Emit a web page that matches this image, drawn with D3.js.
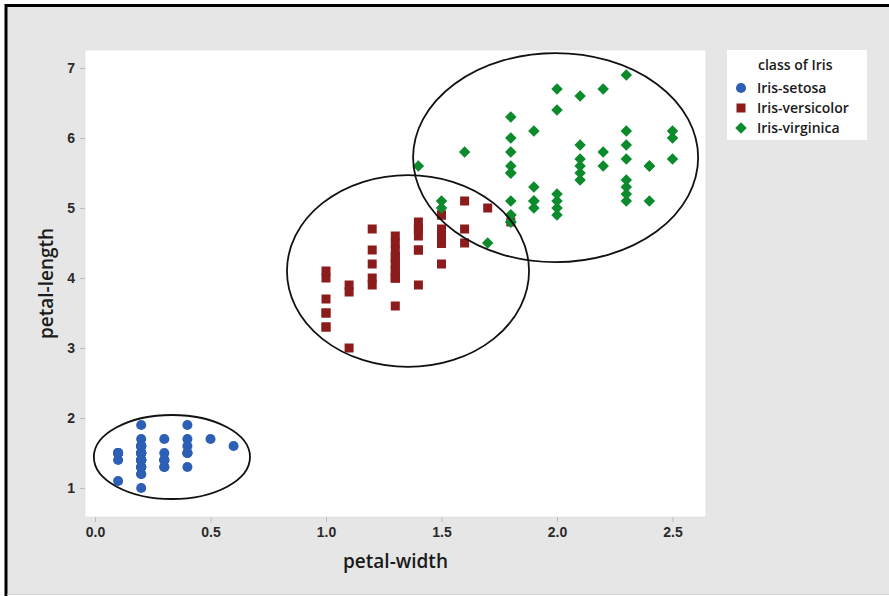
<!DOCTYPE html>
<html>
<head>
<meta charset="utf-8">
<script src="https://cdn.jsdelivr.net/npm/d3@7"></script>
<style>
  html, body { margin: 0; padding: 0; background: #ffffff; }
  svg { display: block; font-family: "Open Sans", "Noto Sans", "DejaVu Sans", sans-serif; }
</style>
</head>
<body>
<svg id="chart" width="889" height="596"></svg>
<script>
// ---- data (petal width, petal length) ----
const setosaWidth  = [0.2,0.2,0.2,0.2,0.2,0.4,0.3,0.2,0.2,0.1,0.2,0.2,0.1,0.1,0.2,0.4,0.4,0.3,0.3,0.3,0.2,0.4,0.2,0.5,0.2,0.2,0.4,0.2,0.2,0.2,0.2,0.4,0.1,0.2,0.1,0.2,0.2,0.1,0.2,0.2,0.3,0.3,0.2,0.6,0.4,0.3,0.2,0.2,0.2,0.2];
const setosaLength = [1.4,1.4,1.3,1.5,1.4,1.7,1.4,1.5,1.4,1.5,1.5,1.6,1.4,1.1,1.2,1.5,1.3,1.4,1.7,1.5,1.7,1.5,1.0,1.7,1.9,1.6,1.6,1.5,1.4,1.6,1.6,1.5,1.5,1.4,1.5,1.2,1.3,1.5,1.3,1.5,1.3,1.3,1.3,1.6,1.9,1.4,1.6,1.4,1.5,1.4];
const versicolorWidth  = [1.4,1.5,1.5,1.3,1.5,1.3,1.6,1.0,1.3,1.4,1.0,1.5,1.0,1.4,1.3,1.4,1.5,1.0,1.5,1.1,1.8,1.3,1.5,1.2,1.3,1.4,1.4,1.7,1.5,1.0,1.1,1.0,1.2,1.6,1.5,1.6,1.5,1.3,1.3,1.3,1.2,1.4,1.2,1.0,1.3,1.2,1.3,1.3,1.1,1.3];
const versicolorLength = [4.7,4.5,4.9,4.0,4.6,4.5,4.7,3.3,4.6,3.9,3.5,4.2,4.0,4.7,3.6,4.4,4.5,4.1,4.5,3.9,4.8,4.0,4.9,4.7,4.3,4.4,4.8,5.0,4.5,3.5,3.8,3.7,3.9,5.1,4.5,4.5,4.7,4.4,4.1,4.0,4.4,4.6,4.0,3.3,4.2,4.2,4.2,4.3,3.0,4.1];
const virginicaWidth  = [2.5,1.9,2.1,1.8,2.2,2.1,1.7,1.8,1.8,2.5,2.0,1.9,2.1,2.0,2.4,2.3,1.8,2.2,2.3,1.5,2.3,2.0,2.0,1.8,2.1,1.8,1.8,1.8,2.1,1.6,1.9,2.0,2.2,1.5,1.4,2.3,2.4,1.8,1.8,2.1,2.4,2.3,1.9,2.3,2.5,2.3,1.9,2.0,2.3,1.8];
const virginicaLength = [6.0,5.1,5.9,5.6,5.8,6.6,4.5,6.3,5.8,6.1,5.1,5.3,5.5,5.0,5.1,5.3,5.5,6.7,6.9,5.0,5.7,4.9,6.7,4.9,5.7,6.0,4.8,4.9,5.6,5.8,6.1,6.4,5.6,5.1,5.6,6.1,5.6,5.5,4.8,5.4,5.6,5.1,5.1,5.9,5.7,5.2,5.0,5.2,5.4,5.1];

const classNames = ["Iris-setosa", "Iris-versicolor", "Iris-virginica"];
const xTicks = [0.0, 0.5, 1.0, 1.5, 2.0, 2.5];
const yTicks = [1, 2, 3, 4, 5, 6, 7];
// ellipses: [centre width, centre length, radius width, radius length]
const ellipseCx = [0.333, 1.355, 1.994];
const ellipseCy = [1.443, 4.10, 5.72];
const ellipseRx = [0.338, 0.524, 0.617];
const ellipseRy = [0.60, 1.371, 1.493];

// ---- layout ----
const W = 889, H = 596;
const plot = { left: 85, right: 706, top: 50, bottom: 517 };
const colors = ["#2d5fb4", "#8c1b1b", "#0b8b2b"];

const svg = d3.select("#chart");

// background and outer frame
svg.append("rect").attr("x", 0).attr("y", 0).attr("width", W).attr("height", H).attr("fill", "#ffffff");
svg.append("rect").attr("x", 6).attr("y", 6).attr("width", W).attr("height", 588)
   .attr("fill", "#e6e6e6").attr("stroke", "none");
svg.append("line").attr("x1", 6).attr("x2", W).attr("y1", 5.5).attr("y2", 5.5).attr("stroke", "#000").attr("stroke-width", 3);
svg.append("line").attr("x1", 6).attr("x2", 6).attr("y1", 4).attr("y2", 596).attr("stroke", "#000").attr("stroke-width", 3);
svg.append("line").attr("x1", 7).attr("x2", W).attr("y1", 594.5).attr("y2", 594.5).attr("stroke", "#d4d4d4").attr("stroke-width", 1);

const x = d3.scaleLinear()
  .domain([(plot.left - 95) / 231, (plot.right - 95) / 231])
  .range([plot.left, plot.right]);
const y = d3.scaleLinear()
  .domain([1 + (488 - plot.bottom) / 70, 1 + (488 - plot.top) / 70])
  .range([plot.bottom, plot.top]);

// plot area
svg.append("rect")
  .attr("x", plot.left).attr("y", plot.top)
  .attr("width", plot.right - plot.left).attr("height", plot.bottom - plot.top)
  .attr("fill", "#ffffff").attr("stroke", "#dcdcdc").attr("stroke-width", 0.6);

// axes
const xAxis = svg.append("g")
  .attr("transform", `translate(0,${plot.bottom})`)
  .call(d3.axisBottom(x).tickValues(xTicks).tickFormat(d3.format(".1f")).tickSize(5).tickPadding(5));
const yAxis = svg.append("g")
  .attr("transform", `translate(${plot.left},0)`)
  .call(d3.axisLeft(y).tickValues(yTicks).tickFormat(d3.format("d")).tickSize(5).tickPadding(5));
[xAxis, yAxis].forEach(g => {
  g.select(".domain").remove();
  g.selectAll(".tick line").attr("stroke", "#bdbdbd");
  g.selectAll(".tick text").attr("fill", "#2a2a2a").attr("font-size", 14).attr("font-weight", 600);
});

// axis titles
svg.append("text")
  .attr("x", (plot.left + plot.right) / 2).attr("y", 568)
  .attr("text-anchor", "middle").attr("font-size", 19).attr("font-weight", 600).attr("fill", "#1a1a1a")
  .text("petal-width");
svg.append("text")
  .attr("transform", `translate(53,${(plot.top + plot.bottom) / 2}) rotate(-90)`)
  .attr("text-anchor", "middle").attr("font-size", 19).attr("font-weight", 600).attr("fill", "#1a1a1a")
  .text("petal-length");

// points
const series = [
  { w: setosaWidth, l: setosaLength, shape: d3.symbolCircle, size: 80, rot: 0 },
  { w: versicolorWidth, l: versicolorLength, shape: d3.symbolSquare, size: 81, rot: 0 },
  { w: virginicaWidth, l: virginicaLength, shape: d3.symbolSquare, size: 66, rot: 45 }
];
const pts = svg.append("g");
series.forEach((s, i) => {
  const data = s.w.map((w, k) => [w, s.l[k]]);
  pts.selectAll(null).data(data).enter().append("path")
    .attr("transform", d => `translate(${x(d[0])},${y(d[1])}) rotate(${s.rot})`)
    .attr("d", d3.symbol().type(s.shape).size(s.size))
    .attr("fill", colors[i]);
});

// ellipses
const ell = svg.append("g");
ellipseCx.forEach((cx, i) => {
  ell.append("ellipse")
    .attr("cx", x(cx)).attr("cy", y(ellipseCy[i]))
    .attr("rx", x(cx + ellipseRx[i]) - x(cx))
    .attr("ry", y(ellipseCy[i]) - y(ellipseCy[i] + ellipseRy[i]))
    .attr("fill", "none").attr("stroke", "#111").attr("stroke-width", 1.8);
});

// legend
const lg = svg.append("g");
lg.append("rect").attr("x", 727).attr("y", 50).attr("width", 140).attr("height", 90).attr("fill", "#ffffff");
lg.append("text").attr("x", 758).attr("y", 70).attr("font-size", 14).attr("font-weight", 600).attr("fill", "#1a1a1a").text("class of Iris");
classNames.forEach((name, i) => {
  const cy = 88 + i * 20;
  lg.append("path")
    .attr("transform", `translate(741,${cy}) rotate(${series[i].rot})`)
    .attr("d", d3.symbol().type(series[i].shape).size(series[i].size))
    .attr("fill", colors[i]);
  lg.append("text").attr("x", 757).attr("y", cy + 5).attr("font-size", 14).attr("font-weight", 600)
    .attr("fill", "#1a1a1a").text(name);
});
</script>
</body>
</html>
